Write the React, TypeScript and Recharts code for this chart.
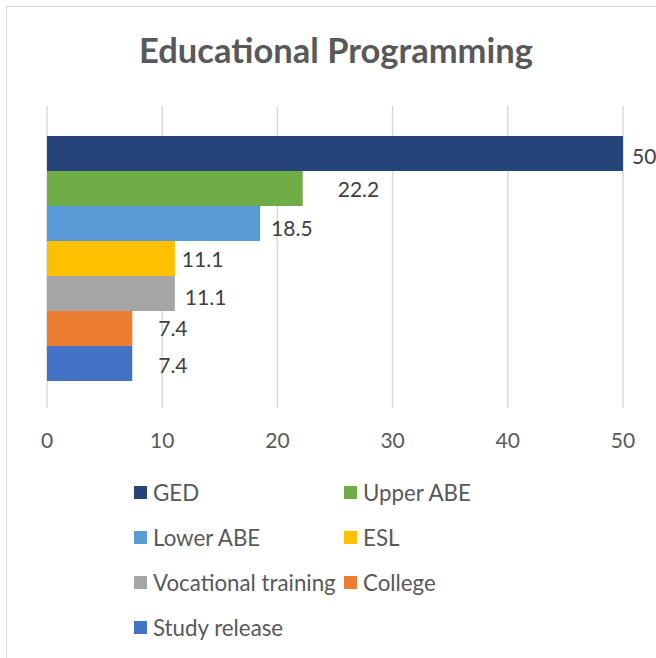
import { BarChart, Bar, XAxis, YAxis, CartesianGrid, LabelList } from 'recharts';

const programs = ['GED', 'Upper ABE', 'Lower ABE', 'ESL', 'Vocational training', 'College', 'Study release'];
const percents = [50, 22.2, 18.5, 11.1, 11.1, 7.4, 7.4];
const colors = ['#264478', '#70ad47', '#5b9bd5', '#ffc000', '#a5a5a5', '#ed7d31', '#4472c4'];
const xTicks = [0, 10, 20, 30, 40, 50];

// excel puts the value labels a bit unevenly, mimic that
const labelOffsets = [9, 35, 11, 7, 10, 26, 26];
const labelDy = [3, 1, 5, 1, 4, 0, 2];

const row: Record<string, string | number> = { name: 'Programs' };
programs.forEach((p, i) => {
  row[p] = percents[i];
});
const data = [row];

const font = 'Lato, "Open Sans", sans-serif';
const grey = '#595959';

function LegendBox() {
  return (
    <div
      style={{
        position: 'absolute',
        left: 134,
        top: 470,
        display: 'grid',
        gridTemplateColumns: '210px 210px',
        fontFamily: font,
      }}
    >
      {programs.map((p, i) => (
        <div key={p} style={{ display: 'flex', alignItems: 'center', height: 45, color: grey, fontSize: 22.3 }}>
          <span style={{ width: 13, height: 13, background: colors[i], marginRight: 6, flex: 'none' }} />
          <span style={{ whiteSpace: 'nowrap' }}>{p}</span>
        </div>
      ))}
    </div>
  );
}

export default function App() {
  return (
    <div style={{ position: 'fixed', left: 0, top: 0, width: 656, height: 658, background: '#fff', overflow: 'hidden' }}>
      <div style={{ position: 'absolute', left: 6, top: 6, width: 680, height: 680, border: '1px solid #d9d9d9' }} />
      <div
        style={{
          position: 'absolute',
          left: 0,
          top: 29,
          width: 672,
          textAlign: 'center',
          fontFamily: font,
          fontWeight: 700,
          fontSize: 34.5,
          color: grey,
          lineHeight: '42px',
        }}
      >
        Educational Programming
      </div>
      <div style={{ position: 'absolute', left: 0, top: 0 }}>
        <BarChart
          width={656}
          height={658}
          data={data}
          layout="vertical"
          margin={{ top: 106, right: 33, left: 47, bottom: 210 }}
          barCategoryGap={30}
          barGap={0}
        >
          <CartesianGrid horizontal={false} stroke="#d9d9d9" strokeWidth={1.5} />
          <XAxis
            type="number"
            domain={[0, 50]}
            ticks={xTicks}
            axisLine={false}
            tickLine={false}
            tickMargin={19}
            height={40}
            tick={{ fill: grey, fontSize: 21, fontFamily: font }}
            interval={0}
          />
          <YAxis type="category" dataKey="name" hide />
          {programs.map((p, i) => (
            <Bar key={p} dataKey={p} fill={colors[i]} isAnimationActive={false}>
              <LabelList
                dataKey={p}
                position="right"
                offset={labelOffsets[i]}
                dy={labelDy[i]}
                fill="#404040"
                fontSize={21}
                fontFamily={font}
              />
            </Bar>
          ))}
        </BarChart>
      </div>
      <LegendBox />
    </div>
  );
}
